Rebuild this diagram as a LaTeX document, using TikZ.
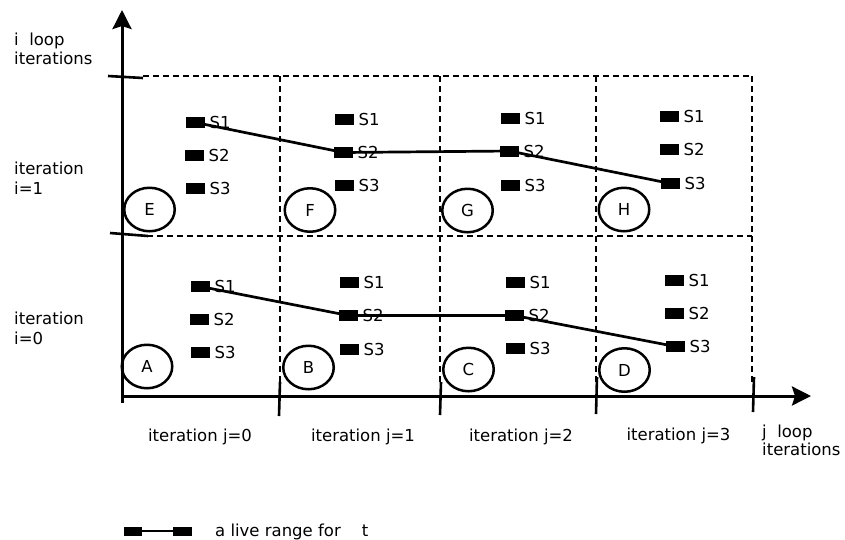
\documentclass[tikz,border=0pt]{standalone}
\usepackage{fontspec}
\setmainfont{DejaVu Sans}
\usetikzlibrary{arrows.meta,shapes.geometric}
\newcommand{\mkcell}[4]{%
  \node[srect] (#11) at #2 {};
  \node[slab] at ([xshift=4.5pt]#11.east) {S1};
  \node[srect] (#12) at #3 {};
  \node[slab] at ([xshift=4.5pt]#12.east) {S2};
  \node[srect] (#13) at #4 {};
  \node[slab] at ([xshift=4.5pt]#13.east) {S3};
}
\begin{document}
\begin{tikzpicture}[x=1pt,y=-1pt,
  txt/.style={font=\fontsize{16.5}{20}\selectfont, inner sep=0pt, anchor=base west},
  ctxt/.style={font=\fontsize{16.5}{20}\selectfont, inner sep=0pt, anchor=base},
  slab/.style={font=\fontsize{16.5}{20}\selectfont, inner sep=0pt, anchor=west},
  srect/.style={fill=black, minimum width=19pt, minimum height=11pt, inner sep=0pt, outer sep=0pt},
  blob/.style={draw, line width=2.5pt, ellipse, minimum width=50.5pt, minimum height=43.5pt, inner sep=0pt, font=\fontsize{16.5}{20}\selectfont},
  axisline/.style={line width=3pt, -{Stealth[length=19pt,width=19pt,inset=3pt]}},
  tickline/.style={line width=2.6pt},
  grid/.style={line width=2.5pt, dash pattern=on 6pt off 4pt},
  live/.style={line width=2.7pt},
  legline/.style={line width=2pt}
]
\useasboundingbox (0,0) rectangle (845,539);

% axes
\coordinate (ybot) at (122,403);
\coordinate (ytop) at (122,10);
\coordinate (xleft) at (122,396);
\coordinate (xright) at (811,396);
\draw[axisline] (ybot) -- (ytop);
\draw[axisline] (xleft) -- (xright);

% dashed grid
\coordinate (t0) at (143,76);
\coordinate (t4) at (752,76);
\coordinate (m0) at (147,236);
\coordinate (m4) at (752,236);
\draw[grid] (t0) -- (t4);
\draw[grid] (m0) -- (m4);
\foreach \xx in {280,440,596,752} {
  \coordinate (va) at (\xx,76);
  \coordinate (vb) at (\xx,384);
  \draw[grid] (va) -- (vb);
}

% ticks on y axis
\coordinate (ya1) at (108,76);
\coordinate (yb1) at (143,78);
\coordinate (ya2) at (110,233);
\coordinate (yb2) at (148,236);
\draw[tickline] (ya1) -- (yb1);
\draw[tickline] (ya2) -- (yb2);

% ticks on x axis
\coordinate (xa1) at (280,382); \coordinate (xb1) at (279,416);
\coordinate (xa2) at (441,382); \coordinate (xb2) at (440,415);
\coordinate (xa3) at (597,377); \coordinate (xb3) at (596,414);
\coordinate (xa4) at (754,377); \coordinate (xb4) at (753,412);
\draw[tickline] (xa1) -- (xb1);
\draw[tickline] (xa2) -- (xb2);
\draw[tickline] (xa3) -- (xb3);
\draw[tickline] (xa4) -- (xb4);

% cells, row i=1
\mkcell{E}{(195.5,122.5)}{(194.5,155.5)}{(195.5,188.5)}
\mkcell{F}{(344.5,119.5)}{(343.5,152.5)}{(344.5,185.5)}
\mkcell{G}{(510.5,118)}{(509.5,151)}{(510.5,185)}
\mkcell{H}{(669.5,116.5)}{(669.5,149.5)}{(670.5,183.5)}
% cells, row i=0
\mkcell{A}{(200.5,286.5)}{(199.5,319)}{(200.5,352.5)}
\mkcell{B}{(349.5,282)}{(348.5,315.5)}{(349.5,349.5)}
\mkcell{C}{(515.5,282)}{(514.5,315.5)}{(515.5,348)}
\mkcell{D}{(674.5,280.5)}{(674.5,313)}{(675.5,346.5)}

% live ranges
\draw[live] (E1.center) -- (F2.center) -- (G2.center) -- (H3.center);
\draw[live] (A1.center) -- (B2.center) -- (C2.center) -- (D3.center);

% circles
\node[blob] (Eb) at (149.5,209.5) {E};
\node[blob] (Fb) at (310,210) {F};
\node[blob] (Gb) at (467.5,210.5) {G};
\node[blob] (Hb) at (624,209.5) {H};
\node[blob] (Ab) at (147,366.5) {A};
\node[blob] (Bb) at (308.5,367.5) {B};
\node[blob] (Cb) at (468.5,369.5) {C};
\node[blob] (Db) at (624.5,370) {D};

% left labels
\node[txt] (il) at (14,45) {i\ \ loop};
\node[txt] (it) at (14,64) {iterations};
\node[txt] (i1a) at (14,174) {iteration};
\node[txt] (i1b) at (14,194) {i=1};
\node[txt] (i0a) at (14,324) {iteration};
\node[txt] (i0b) at (14,344) {i=0};

% bottom labels
\node[ctxt] (j0) at (200,441) {iteration j=0};
\node[ctxt] (j1) at (363,441) {iteration j=1};
\node[ctxt] (j2) at (521,441) {iteration j=2};
\node[ctxt] (j3) at (678.5,440) {iteration j=3};
\node[txt] (jl) at (762,437) {j\ \ loop};
\node[txt] (jt) at (762,455) {iterations};

% legend
\node[srect, minimum width=18pt, minimum height=9pt] (L1) at (133,531) {};
\node[srect, minimum width=19pt, minimum height=9pt] (L2) at (182.5,531) {};
\draw[legline] (L1.east) -- (L2.west);
\node[txt] (lt) at (215,536) {a live range for\hspace{21pt}t};
\end{tikzpicture}
\end{document}
